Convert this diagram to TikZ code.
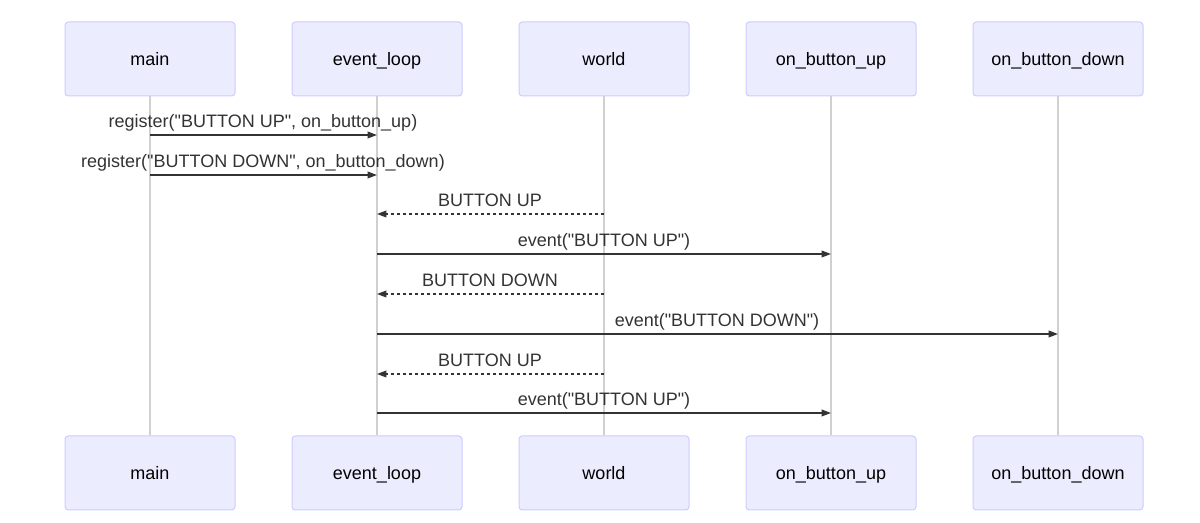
\documentclass[tikz,border=0pt]{standalone}
\usepackage{fontspec}
\setmainfont{Liberation Sans}
\usetikzlibrary{arrows.meta}
\definecolor{actfill}{HTML}{ECECFF}
\definecolor{actdraw}{HTML}{CCCCFF}
\definecolor{lifecol}{HTML}{D0D0D0}
\definecolor{msgcol}{HTML}{333333}
\newcommand{\dq}{\textquotedbl}
\begin{document}
\begin{tikzpicture}[x=0.75pt,y=-0.75pt,
  actor/.style={draw=actdraw,fill=actfill,line width=0.75pt,rounded corners=2.5pt,
    minimum width=127.5pt,minimum height=55.5pt,inner sep=0pt},
  atext/.style={font=\fontsize{13.5}{16}\selectfont,text=black,inner sep=0pt,anchor=base},
  life/.style={draw=lifecol,line width=1pt},
  msg/.style={draw=msgcol,line width=1.1pt,-{Triangle[length=7pt,width=5pt]}},
  reply/.style={msg,dash pattern=on 2.25pt off 2.25pt},
  lbl/.style={font=\fontsize{13.5}{16}\selectfont,text=msgcol,inner sep=0pt,anchor=base}]
\useasboundingbox (0,0) rectangle (1200,523);
% top actors
\node[actor] (mainT) at (150,59) {};
\node[actor] (evlT) at (377,59) {};
\node[actor] (worldT) at (604,59) {};
\node[actor] (upT) at (831,59) {};
\node[actor] (downT) at (1058,59) {};
\node[atext] (mainTt) at (150,66) {main};
\node[atext] (evlTt) at (377,66) {event\_loop};
\node[atext] (worldTt) at (604,66) {world};
\node[atext] (upTt) at (831,66) {on\_button\_up};
\node[atext] (downTt) at (1058,66) {on\_button\_down};
% bottom actors
\node[actor] (mainB) at (150,473) {};
\node[actor] (evlB) at (377,473) {};
\node[actor] (worldB) at (604,473) {};
\node[actor] (upB) at (831,473) {};
\node[actor] (downB) at (1058,473) {};
\node[atext] (mainBt) at (150,480) {main};
\node[atext] (evlBt) at (377,480) {event\_loop};
\node[atext] (worldBt) at (604,480) {world};
\node[atext] (upBt) at (831,480) {on\_button\_up};
\node[atext] (downBt) at (1058,480) {on\_button\_down};
% lifelines
\draw[life] (mainT.south) -- (mainB.north);
\draw[life] (evlT.south) -- (evlB.north);
\draw[life] (worldT.south) -- (worldB.north);
\draw[life] (upT.south) -- (upB.north);
\draw[life] (downT.south) -- (downB.north);
% message rows
\coordinate (y1) at (0,135);
\coordinate (y2) at (0,175);
\coordinate (y3) at (0,214);
\coordinate (y4) at (0,254);
\coordinate (y5) at (0,294);
\coordinate (y6) at (0,334);
\coordinate (y7) at (0,374);
\coordinate (y8) at (0,413);
\draw[msg] (mainT |- y1) -- (evlT |- y1);
\node[lbl] (l1) at (263,128) {register(\dq BUTTON UP\dq, on\_button\_up)};
\draw[msg] (mainT |- y2) -- (evlT |- y2);
\node[lbl] (l2) at (263,168) {register(\dq BUTTON DOWN\dq, on\_button\_down)};
\draw[reply] (worldT |- y3) -- (evlT |- y3);
\node[lbl] (l3) at (490,207) {BUTTON UP};
\draw[msg] (evlT |- y4) -- (upT |- y4);
\node[lbl] (l4) at (604,247) {event(\dq BUTTON UP\dq)};
\draw[reply] (worldT |- y5) -- (evlT |- y5);
\node[lbl] (l5) at (490,287) {BUTTON DOWN};
\draw[msg] (evlT |- y6) -- (downT |- y6);
\node[lbl] (l6) at (717,327) {event(\dq BUTTON DOWN\dq)};
\draw[reply] (worldT |- y7) -- (evlT |- y7);
\node[lbl] (l7) at (490,367) {BUTTON UP};
\draw[msg] (evlT |- y8) -- (upT |- y8);
\node[lbl] (l8) at (604,406) {event(\dq BUTTON UP\dq)};
\end{tikzpicture}
\end{document}
